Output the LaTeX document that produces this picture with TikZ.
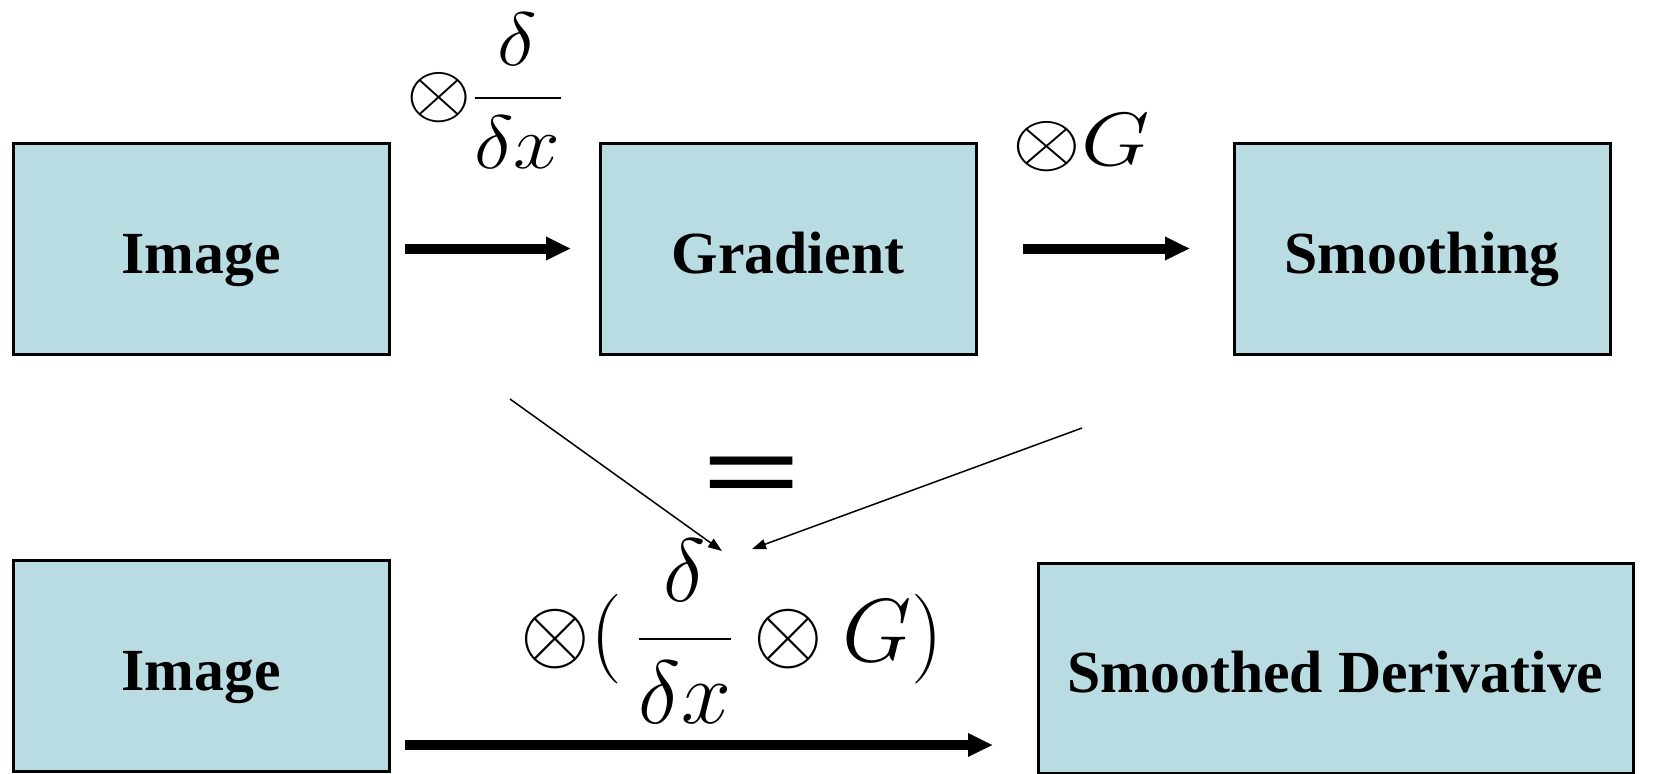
\RequirePackage{fix-cm}
\documentclass[tikz,border=0pt]{standalone}
\usepackage{amsmath}
\usepackage{fontspec}
\setmainfont{Liberation Serif}
\usetikzlibrary{arrows.meta}
\definecolor{boxfill}{RGB}{185,220,226}

\begin{document}
\begin{tikzpicture}[
    stage/.style={rectangle, draw=black, line width=0.06cm, fill=boxfill, minimum width=7.52cm, minimum height=4.22cm, text height=34.7pt, text depth=6.8pt, font=\fontsize{34pt}{40pt}\selectfont\bfseries},
    oplabel/.style={font=\fontsize{43pt}{60pt}\selectfont, inner sep=0pt},
    bigarr/.style={-{Triangle[length=0.5cm, width=0.44cm]}, line width=0.2cm},
    thinarr/.style={-{Triangle[length=0.28cm, width=0.2cm]}, line width=0.03cm}
]
    \clip (0,0) rectangle (33.14,-15.46);

    \node[stage] (img1) at (4.02, -4.97) {Image};
    \node[stage] (grad) at (15.76, -4.97) {Gradient};
    \node[stage] (smooth) at (28.44, -4.97) {Smoothing};
    \node[stage] (img2) at (4.02, -13.32) {Image};
    \node[stage, minimum width=11.9cm, minimum height=4.2cm] (smder) at (26.71, -13.36) {Smoothed Derivative};

    \node[oplabel] (ddx) at (9.7, -1.82) {\scalebox{1.11}[1]{$\displaystyle\otimes\frac{\delta}{\delta x}$}};
    \node[oplabel] (convG) at (21.62, -2.86) {\scalebox{1.17}[1]{$\otimes G$}};
    \node[oplabel, font=\fontsize{51pt}{60pt}\selectfont] (combo) at (14.64, -12.62) {$\displaystyle\otimes(\,\frac{\delta}{\delta x}\otimes G)$};
    \node[font=\fontsize{91pt}{100pt}\selectfont\bfseries, anchor=base, inner sep=0pt] (eq) at (15.04, -10.22) {\scalebox{1.11}[0.73]{=}};

    \draw[bigarr, shorten <=0.29cm, shorten >=0.55cm] (img1) -- (grad);
    \draw[bigarr, shorten <=0.9cm, shorten >=0.85cm] (grad) -- (smooth);
    \coordinate (botA) at ([xshift=0.29cm, yshift=-1.58cm]img2.east);
    \draw[bigarr, shorten >=0.87cm] (botA) -- (botA -| smder.west);

    \coordinate (fromL) at (10.2, -7.98);
    \coordinate (fromR) at (21.64, -8.56);
    \coordinate (toL) at (14.44, -11.02);
    \coordinate (toR) at (15.04, -10.98);
    \draw[thinarr] (fromL) -- (toL);
    \draw[thinarr] (fromR) -- (toR);
\end{tikzpicture}
\end{document}
